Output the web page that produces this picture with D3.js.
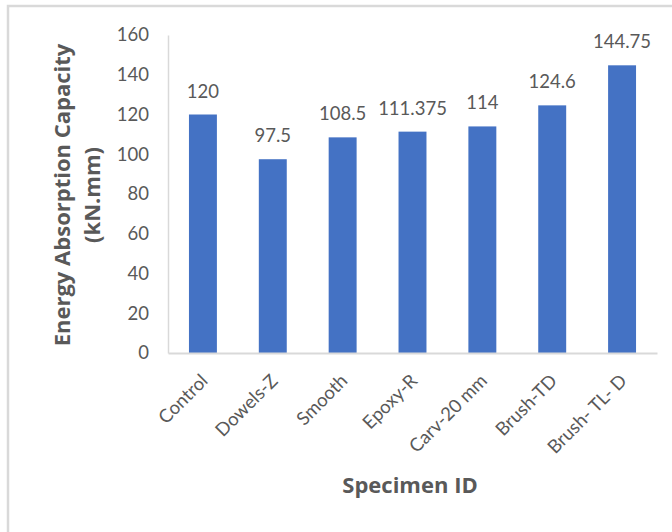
<!DOCTYPE html>
<html>
<head>
<meta charset="utf-8">
<script src="https://cdn.jsdelivr.net/npm/d3@7"></script>
<style>
  html, body { margin: 0; padding: 0; background: #fff; }
  svg { display: block; }
</style>
</head>
<body>
<script>
// Specimen categories and their energy absorption (kN.mm)
const specimens = ["Control", "Dowels-Z", "Smooth", "Epoxy-R", "Carv-20 mm", "Brush-TD", "Brush- TL- D"];
const energy = [120, 97.5, 108.5, 111.375, 114, 124.6, 144.75];
const energyLabels = ["120", "97.5", "108.5", "111.375", "114", "124.6", "144.75"];
const yTicks = [0, 20, 40, 60, 80, 100, 120, 140, 160];

const W = 672, H = 532;
const plot = { left: 168, right: 657, top: 35, bottom: 353 };
const textGrey = "#595959";
const barBlue = "#4472C4";
const tickFont = "Lato, 'Open Sans', sans-serif";
const titleFont = "'Open Sans', 'Noto Sans', sans-serif";
const tickSize = "18.5px";
const titleSize = "22px";

const svg = d3.select("body").append("svg")
  .attr("width", W).attr("height", H);

// chart frame (runs off the right and bottom edges)
svg.append("rect")
  .attr("x", 8).attr("y", 6)
  .attr("width", 800).attr("height", 800)
  .attr("fill", "#fff")
  .attr("stroke", "#d9d9d9").attr("stroke-width", 2.5);

const x = d3.scaleBand()
  .domain(specimens)
  .range([plot.left, plot.right])
  .paddingInner(0.6).paddingOuter(0.3);

const y = d3.scaleLinear()
  .domain([0, 160])
  .range([plot.bottom, plot.top]);

// y axis: labels only, with a light vertical rule
const yAxis = svg.append("g")
  .attr("transform", `translate(${plot.left},0)`)
  .call(d3.axisLeft(y).tickValues(yTicks).tickSize(0).tickPadding(19).tickFormat(d3.format("d")));
yAxis.select(".domain").attr("stroke", "#d9d9d9").attr("stroke-width", 1.5);
yAxis.selectAll("text")
  .attr("fill", textGrey)
  .style("font-family", tickFont)
  .style("font-size", tickSize);

// bars
svg.append("g").selectAll("rect")
  .data(specimens)
  .join("rect")
  .attr("x", d => x(d))
  .attr("width", x.bandwidth())
  .attr("y", (d, i) => y(energy[i]))
  .attr("height", (d, i) => y(0) - y(energy[i]))
  .attr("fill", barBlue);

// value labels
svg.append("g").selectAll("text")
  .data(specimens)
  .join("text")
  .attr("x", d => x(d) + x.bandwidth() / 2)
  .attr("y", (d, i) => y(energy[i]) - 17)
  .attr("text-anchor", "middle")
  .attr("fill", textGrey)
  .style("font-family", tickFont)
  .style("font-size", tickSize)
  .text((d, i) => energyLabels[i]);

// x axis baseline and rotated category labels
const xAxis = svg.append("g")
  .attr("transform", `translate(0,${plot.bottom})`)
  .call(d3.axisBottom(x).tickSize(0).tickSizeOuter(0));
xAxis.select(".domain").attr("stroke", "#d9d9d9").attr("stroke-width", 2);
xAxis.selectAll(".tick text")
  .attr("fill", textGrey)
  .style("font-family", tickFont)
  .style("font-size", tickSize)
  .attr("text-anchor", "end")
  .attr("dy", null)
  .attr("y", 0)
  .attr("transform", "translate(6,29) rotate(-45)");

// axis titles
const yTitle = svg.append("text")
  .attr("transform", "translate(0,195) rotate(-90)")
  .attr("text-anchor", "middle")
  .attr("fill", textGrey)
  .style("font-family", titleFont)
  .style("font-weight", "bold")
  .style("font-size", titleSize);
yTitle.append("tspan").attr("x", 0).attr("y", 70).text("Energy Absorption Capacity");
yTitle.append("tspan").attr("x", 0).attr("y", 100).text("(kN.mm)");

svg.append("text")
  .attr("x", 410).attr("y", 493)
  .attr("text-anchor", "middle")
  .attr("fill", textGrey)
  .style("font-family", titleFont)
  .style("font-weight", "bold")
  .style("font-size", titleSize)
  .text("Specimen ID");
</script>
</body>
</html>
